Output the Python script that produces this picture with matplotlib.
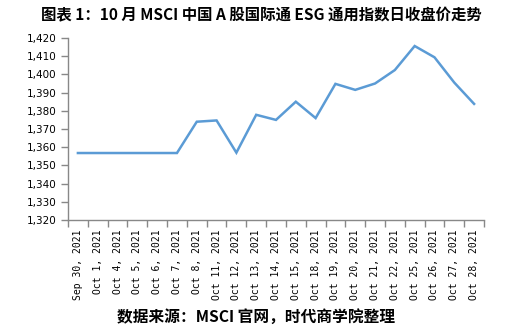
import matplotlib
matplotlib.use("Agg")
import matplotlib.pyplot as plt
import numpy as np

dates = ["Sep 30, 2021", "Oct 1, 2021", "Oct 4, 2021", "Oct 5, 2021", "Oct 6, 2021",
         "Oct 7, 2021", "Oct 8, 2021", "Oct 11, 2021", "Oct 12, 2021", "Oct 13, 2021",
         "Oct 14, 2021", "Oct 15, 2021", "Oct 18, 2021", "Oct 19, 2021", "Oct 20, 2021",
         "Oct 21, 2021", "Oct 22, 2021", "Oct 25, 2021", "Oct 26, 2021", "Oct 27, 2021",
         "Oct 28, 2021"]
close = [1356.8, 1356.8, 1356.8, 1356.8, 1356.8, 1356.8, 1374.0, 1374.7, 1357.0, 1377.8,
         1375.0, 1385.0, 1376.0, 1394.8, 1391.5, 1395.0, 1402.4, 1415.6, 1409.4, 1395.5,
         1383.8]
yticks = list(range(1320, 1421, 10))

title = "图表 1：10 月 MSCI 中国 A 股国际通 ESG 通用指数日收盘价走势"
source = "数据来源：MSCI 官网，时代商学院整理"

W, H = 523, 333
fig = plt.figure(figsize=(W / 100, H / 100), dpi=100)
ax = fig.add_axes([68 / W, 1 - 220 / H, (484 - 68) / W, (220 - 38) / H])

x = np.arange(len(dates))
ax.plot(x, close, color="#5B9BD5", lw=1.8, solid_joinstyle="miter")

ax.set_xlim(-0.5, len(dates) - 0.5)
ax.set_ylim(1320, 1420)
ax.set_yticks(yticks)
ax.set_yticklabels([f"{v:,}" for v in yticks], fontsize=7.5, family="DejaVu Sans")

ax.set_xticks(x)
ax.set_xticklabels(dates, rotation=90, fontsize=7, family="DejaVu Sans Mono")
ax.set_xticks(np.arange(-0.5, len(dates)), minor=True)
ax.tick_params(axis="x", which="major", length=0, pad=7)
ax.tick_params(axis="x", which="minor", length=5, color="#888888", width=1)
ax.tick_params(axis="y", length=5, color="#888888", width=1, pad=3)

for s in ["top", "right"]:
    ax.spines[s].set_visible(False)
for s in ["left", "bottom"]:
    ax.spines[s].set_color("#888888")
    ax.spines[s].set_linewidth(1)

fig.text(261 / W, 1 - 15 / H, title, ha="center", va="center", fontsize=11.1,
         fontweight="bold", family=["Noto Sans CJK SC", "DejaVu Sans"])
fig.text(256 / W, 1 - 317 / H, source, ha="center", va="center", fontsize=11.3,
         fontweight="bold", family=["Noto Sans CJK SC", "DejaVu Sans"])

fig.savefig("out.png", dpi=100)
